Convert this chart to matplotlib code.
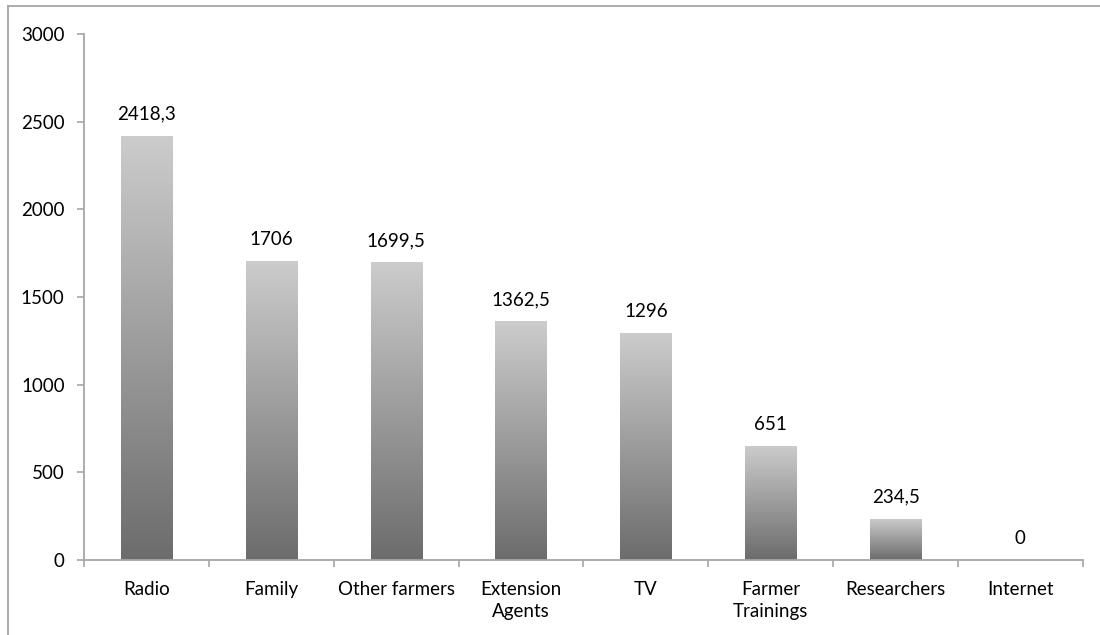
import numpy as np
import matplotlib
matplotlib.use("Agg")
import matplotlib.pyplot as plt
from matplotlib.colors import LinearSegmentedColormap
from matplotlib.lines import Line2D

categories = ["Radio", "Family", "Other farmers", "Extension\nAgents", "TV",
              "Farmer\nTrainings", "Researchers", "Internet"]
values = [2418.3, 1706, 1699.5, 1362.5, 1296, 651, 234.5, 0]
value_labels = ["2418,3", "1706", "1699,5", "1362,5", "1296", "651", "234,5", "0"]
yticks = [0, 500, 1000, 1500, 2000, 2500, 3000]

plt.rcParams['font.family'] = ['Lato', 'DejaVu Sans']
FS = 13.5

fig = plt.figure(figsize=(11, 6.35), dpi=100)
ax = fig.add_axes([0.0764, 0.118, 0.908, 0.8285])

# grey frame around the chart area (only top and left show in the picture)
edge = '#a6a6a6'
fig.add_artist(Line2D([0.0075, 0.0075], [0, 0.99], transform=fig.transFigure, color=edge, lw=1.3))
fig.add_artist(Line2D([0.0075, 1.0], [0.99, 0.99], transform=fig.transFigure, color=edge, lw=1.3))

x = np.arange(len(categories))
bars = ax.bar(x, values, width=0.41, color='none', edgecolor='none')

# vertical gradient: dark at the bottom, light at the top of each bar
cmap = LinearSegmentedColormap.from_list('bargrad', ['#6c6c6c', '#cccccc'])
grad = np.linspace(0, 1, 256).reshape(-1, 1)
for rect in bars:
    h = rect.get_height()
    if h <= 0:
        continue
    x0 = rect.get_x()
    im = ax.imshow(grad, cmap=cmap, origin='lower', aspect='auto',
                   extent=(x0, x0 + rect.get_width(), 0, h), zorder=2)
    im.set_clip_path(rect)

for xi, v, lab in zip(x, values, value_labels):
    ax.text(xi, v + 75, lab, ha='center', va='bottom', fontsize=FS, color='black')

ax.set_xlim(-0.5, len(categories) - 0.5)
ax.set_ylim(0, 3000)
ax.set_yticks(yticks)
ax.set_yticklabels([str(t) for t in yticks], fontsize=FS)

ax.set_xticks(x)
ax.set_xticklabels(categories, fontsize=FS, linespacing=1.38)
ax.tick_params(axis='x', length=0, pad=15)
ax.set_xticks(np.arange(-0.5, len(categories)), minor=True)
ax.tick_params(axis='x', which='minor', length=5, color=edge, width=1.2)
ax.tick_params(axis='y', length=5, color=edge, width=1.2, pad=9)

for s in ['top', 'right']:
    ax.spines[s].set_visible(False)
for s in ['left', 'bottom']:
    ax.spines[s].set_color(edge)
    ax.spines[s].set_linewidth(1.3)

fig.savefig('out.png', dpi=100, facecolor='white')
